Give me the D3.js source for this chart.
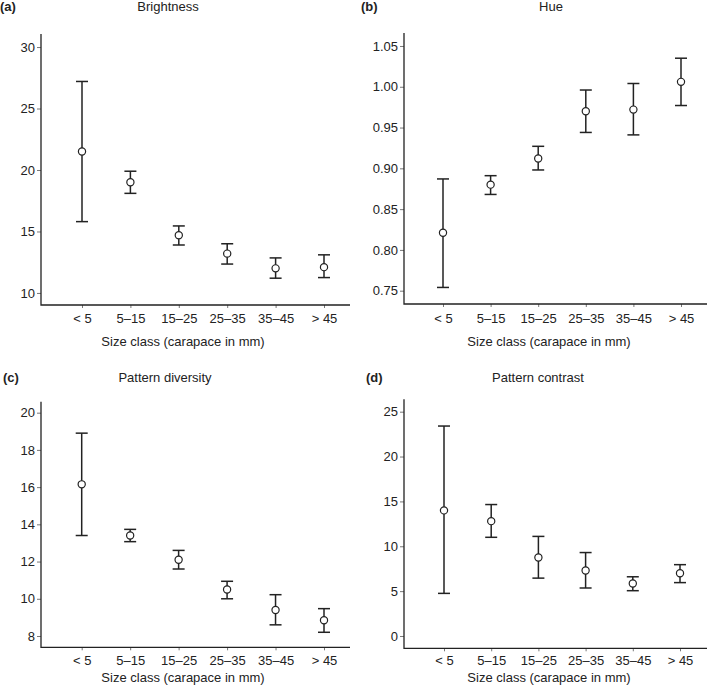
<!DOCTYPE html>
<html>
<head>
<meta charset="utf-8">
<script src="https://cdn.jsdelivr.net/npm/d3@7"></script>
<style>
  html, body { margin: 0; padding: 0; background: #fff; }
  svg { display: block; }
  text { font-family: "Liberation Sans", Arial, Helvetica, sans-serif; fill: #222; }
</style>
</head>
<body>
<svg id="chart" width="709" height="686"></svg>
<script>
// ---- data ----
const categories = ["< 5", "5–15", "15–25", "25–35", "35–45", "> 45"];

const brightnessMean  = [21.5, 19.0, 14.7, 13.2, 12.0, 12.1];
const brightnessLower = [15.8, 18.1, 13.9, 12.35, 11.2, 11.25];
const brightnessUpper = [27.2, 19.9, 15.45, 14.0, 12.85, 13.1];

const hueMean  = [0.821, 0.880, 0.912, 0.970, 0.972, 1.006];
const hueLower = [0.754, 0.868, 0.898, 0.944, 0.941, 0.977];
const hueUpper = [0.887, 0.891, 0.927, 0.996, 1.004, 1.035];

const diversityMean  = [16.15, 13.4, 12.1, 10.5, 9.4, 8.85];
const diversityLower = [13.4, 13.07, 11.6, 10.0, 8.6, 8.2];
const diversityUpper = [18.9, 13.73, 12.6, 10.94, 10.22, 9.47];

const contrastMean  = [14.0, 12.8, 8.75, 7.3, 5.85, 7.0];
const contrastLower = [4.75, 11.0, 6.45, 5.35, 5.05, 5.95];
const contrastUpper = [23.4, 14.65, 11.1, 9.3, 6.6, 7.95];

const brightnessTicks = [10, 15, 20, 25, 30];
const hueTicks = [0.75, 0.80, 0.85, 0.90, 0.95, 1.00, 1.05];
const diversityTicks = [8, 10, 12, 14, 16, 18, 20];
const contrastTicks = [0, 5, 10, 15, 20, 25];

const xTitle = "Size class (carapace in mm)";

// ---- layout ----
const panels = [
  { tag: "(a)", title: "Brightness", mean: brightnessMean, lo: brightnessLower, hi: brightnessUpper,
    ticks: brightnessTicks, fmt: d3.format("d"), yDomain: [9.02, 31.06],
    left: 41, right: 350, top: 34, bottom: 305, xr: [82, 324],
    tagX: 0, titleX: 168, titleY: 11, xLabY: 322.5, xTitleX: 183, xTitleY: 346 },
  { tag: "(b)", title: "Hue", mean: hueMean, lo: hueLower, hi: hueUpper,
    ticks: hueTicks, fmt: d3.format(".2f"), yDomain: [0.7337, 1.0659],
    left: 404, right: 707, top: 33, bottom: 304, xr: [443, 681],
    tagX: 361, titleX: 551, titleY: 11, xLabY: 322.5, xTitleX: 549, xTitleY: 346 },
  { tag: "(c)", title: "Pattern diversity", mean: diversityMean, lo: diversityLower, hi: diversityUpper,
    ticks: diversityTicks, fmt: d3.format("d"), yDomain: [7.393, 20.59],
    left: 41, right: 350, top: 401.7, bottom: 647.3, xr: [81.7, 324],
    tagX: 3, titleX: 165, titleY: 382, xLabY: 665, xTitleX: 183, xTitleY: 682 },
  { tag: "(d)", title: "Pattern contrast", mean: contrastMean, lo: contrastLower, hi: contrastUpper,
    ticks: contrastTicks, fmt: d3.format("d"), yDomain: [-1.371, 26.38],
    left: 404, right: 707, top: 399.3, bottom: 648.3, xr: [444, 680],
    tagX: 366, titleX: 538, titleY: 382, xLabY: 665, xTitleX: 549, xTitleY: 682 }
];

const svg = d3.select("#chart");
const ink = "#222";

panels.forEach(p => {
  const g = svg.append("g");
  const x = d3.scalePoint().domain(categories).range(p.xr);
  const y = d3.scaleLinear().domain(p.yDomain).range([p.bottom, p.top]);

  // tag and title
  g.append("text").attr("x", p.tagX).attr("y", p.titleY)
    .attr("font-size", 13).attr("font-weight", "bold").text(p.tag);
  g.append("text").attr("x", p.titleX).attr("y", p.titleY)
    .attr("font-size", 13).attr("text-anchor", "middle").text(p.title);

  // y axis
  const yAxis = d3.axisLeft(y).tickValues(p.ticks).tickFormat(p.fmt)
    .tickSizeInner(4).tickSizeOuter(0).tickPadding(2);
  const ya = g.append("g").attr("transform", `translate(${p.left},0)`).call(yAxis);
  ya.select(".domain").remove();
  ya.selectAll(".tick line").attr("stroke", "#555").attr("stroke-width", 0.8);
  ya.selectAll(".tick text").attr("font-size", 13).attr("fill", ink)
    .style("font-family", '"Liberation Sans", Arial, Helvetica, sans-serif');

  // x axis
  const xAxis = d3.axisBottom(x).tickSizeInner(3).tickSizeOuter(0).tickPadding(5);
  const xa = g.append("g").attr("transform", `translate(0,${p.bottom})`).call(xAxis);
  xa.select(".domain").remove();
  xa.selectAll(".tick line").attr("stroke", "#555").attr("stroke-width", 0.8);
  xa.selectAll(".tick text").attr("font-size", 13).attr("fill", ink)
    .attr("dy", null).attr("y", p.xLabY - p.bottom)
    .style("font-family", '"Liberation Sans", Arial, Helvetica, sans-serif');

  // axis frame lines (L-shape)
  g.append("path")
    .attr("d", `M${p.left},${p.top}V${p.bottom}H${p.right}`)
    .attr("fill", "none").attr("stroke", ink).attr("stroke-width", 1.3);

  // x title
  g.append("text").attr("x", p.xTitleX).attr("y", p.xTitleY)
    .attr("font-size", 13).attr("text-anchor", "middle").text(xTitle);

  // error bars
  const rows = categories.map((c, i) => ({ c, m: p.mean[i], lo: p.lo[i], hi: p.hi[i] }));
  const eb = g.append("g").attr("stroke", ink).attr("stroke-width", 1.5).attr("fill", "none");
  eb.selectAll("line.v").data(rows).join("line").attr("class", "v")
    .attr("x1", d => x(d.c)).attr("x2", d => x(d.c))
    .attr("y1", d => y(d.lo)).attr("y2", d => y(d.hi));
  eb.selectAll("line.ct").data(rows).join("line").attr("class", "ct")
    .attr("x1", d => x(d.c) - 6).attr("x2", d => x(d.c) + 6)
    .attr("y1", d => y(d.hi)).attr("y2", d => y(d.hi));
  eb.selectAll("line.cb").data(rows).join("line").attr("class", "cb")
    .attr("x1", d => x(d.c) - 6).attr("x2", d => x(d.c) + 6)
    .attr("y1", d => y(d.lo)).attr("y2", d => y(d.lo));
  g.selectAll("circle").data(rows).join("circle")
    .attr("cx", d => x(d.c)).attr("cy", d => y(d.m)).attr("r", 3.6)
    .attr("fill", "#fff").attr("stroke", ink).attr("stroke-width", 1.2);
});
</script>
</body>
</html>
